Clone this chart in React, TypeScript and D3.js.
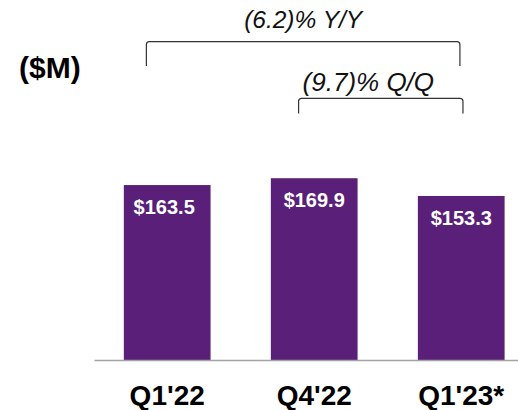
import React, { useRef, useEffect } from "react";
import * as d3 from "d3";

const categories = ["Q1'22", "Q4'22", "Q1'23*"];
const revenue = [163.5, 169.9, 153.3];
const barLabels = ["$163.5", "$169.9", "$153.3"];
const unitLabel = "($M)";
const changeLabels = ["(6.2)% Y/Y", "(9.7)% Q/Q"];

const FONT = "'Liberation Sans', Arial, sans-serif";
const PURPLE = "#5a2079";

export default function App() {
  const svgRef = useRef<SVGSVGElement>(null);

  useEffect(() => {
    const svg = d3.select(svgRef.current);
    svg.selectAll("*").remove();

    const width = 518;
    const baseline = 360;

    // scales
    const x = d3
      .scaleBand()
      .domain(categories)
      .range([94, width])
      .paddingInner(0.41)
      .paddingOuter(0.147)
      .align(0.69);

    const y = d3.scaleLinear().domain([0, 200]).range([baseline, baseline - 214]);

    const data = categories.map((c, i) => ({ cat: c, value: revenue[i], label: barLabels[i] }));

    // bars
    svg
      .append("g")
      .selectAll("rect")
      .data(data)
      .join("rect")
      .attr("x", (d) => x(d.cat)!)
      .attr("y", (d) => y(d.value))
      .attr("width", x.bandwidth())
      .attr("height", (d) => y(0) - y(d.value))
      .attr("fill", PURPLE);

    // value labels inside bars
    svg
      .append("g")
      .selectAll("text")
      .data(data)
      .join("text")
      .attr("x", (d, i) => x(d.cat)! + x.bandwidth() / 2 - (i === 0 ? 3 : 0))
      .attr("y", (d) => y(d.value) + 29)
      .attr("text-anchor", "middle")
      .attr("fill", "white")
      .style("font", `bold 20px ${FONT}`)
      .text((d) => d.label);

    // x axis
    const xAxis = d3.axisBottom(x).tickSize(0).tickSizeOuter(0);
    const axisG = svg
      .append("g")
      .attr("transform", `translate(0, ${baseline})`)
      .call(xAxis);
    axisG.select(".domain").attr("stroke", "#a3a3a3").attr("stroke-width", 1.5);
    axisG
      .selectAll("text")
      .attr("y", 45)
      .attr("dy", 0)
      .attr("fill", "#000")
      .style("font", `bold 28px ${FONT}`);

    // unit label
    svg
      .append("text")
      .attr("x", 19)
      .attr("y", 78)
      .attr("fill", "#000")
      .style("font", `bold 30px ${FONT}`)
      .text(unitLabel);

    // change brackets
    const bw = x.bandwidth();
    const brackets = [
      { x0: x(categories[0])! + 0.26 * bw, x1: x(categories[2])! + 0.485 * bw, top: 41.7, bottom: 66, label: changeLabels[0], anchor: "middle", gap: 14, size: 24.5 },
      { x0: x(categories[1])! + 0.32 * bw, x1: x(categories[2])! + 0.52 * bw, top: 98.3, bottom: 113.5, label: changeLabels[1], anchor: "start", gap: 7, size: 26 },
    ];
    const r = 3;
    brackets.forEach((b) => {
      const p = d3.path();
      p.moveTo(b.x0, b.bottom);
      p.lineTo(b.x0, b.top + r);
      p.quadraticCurveTo(b.x0, b.top, b.x0 + r, b.top);
      p.lineTo(b.x1 - r, b.top);
      p.quadraticCurveTo(b.x1, b.top, b.x1, b.top + r);
      p.lineTo(b.x1, b.bottom);
      svg
        .append("path")
        .attr("d", p.toString())
        .attr("fill", "none")
        .attr("stroke", "#333")
        .attr("stroke-width", 1.2);

      svg
        .append("text")
        .attr("x", b.anchor === "middle" ? (b.x0 + b.x1) / 2 : b.x0 + 4)
        .attr("y", b.top - b.gap)
        .attr("text-anchor", b.anchor)
        .attr("fill", "#111")
        .style("font", `italic ${b.size}px ${FONT}`)
        .text(b.label);
    });
  }, []);

  return (
    <div style={{ position: "absolute", left: 0, top: 0 }}>
      <svg ref={svgRef} width={518} height={410} style={{ display: "block", background: "#fff" }} />
    </div>
  );
}
